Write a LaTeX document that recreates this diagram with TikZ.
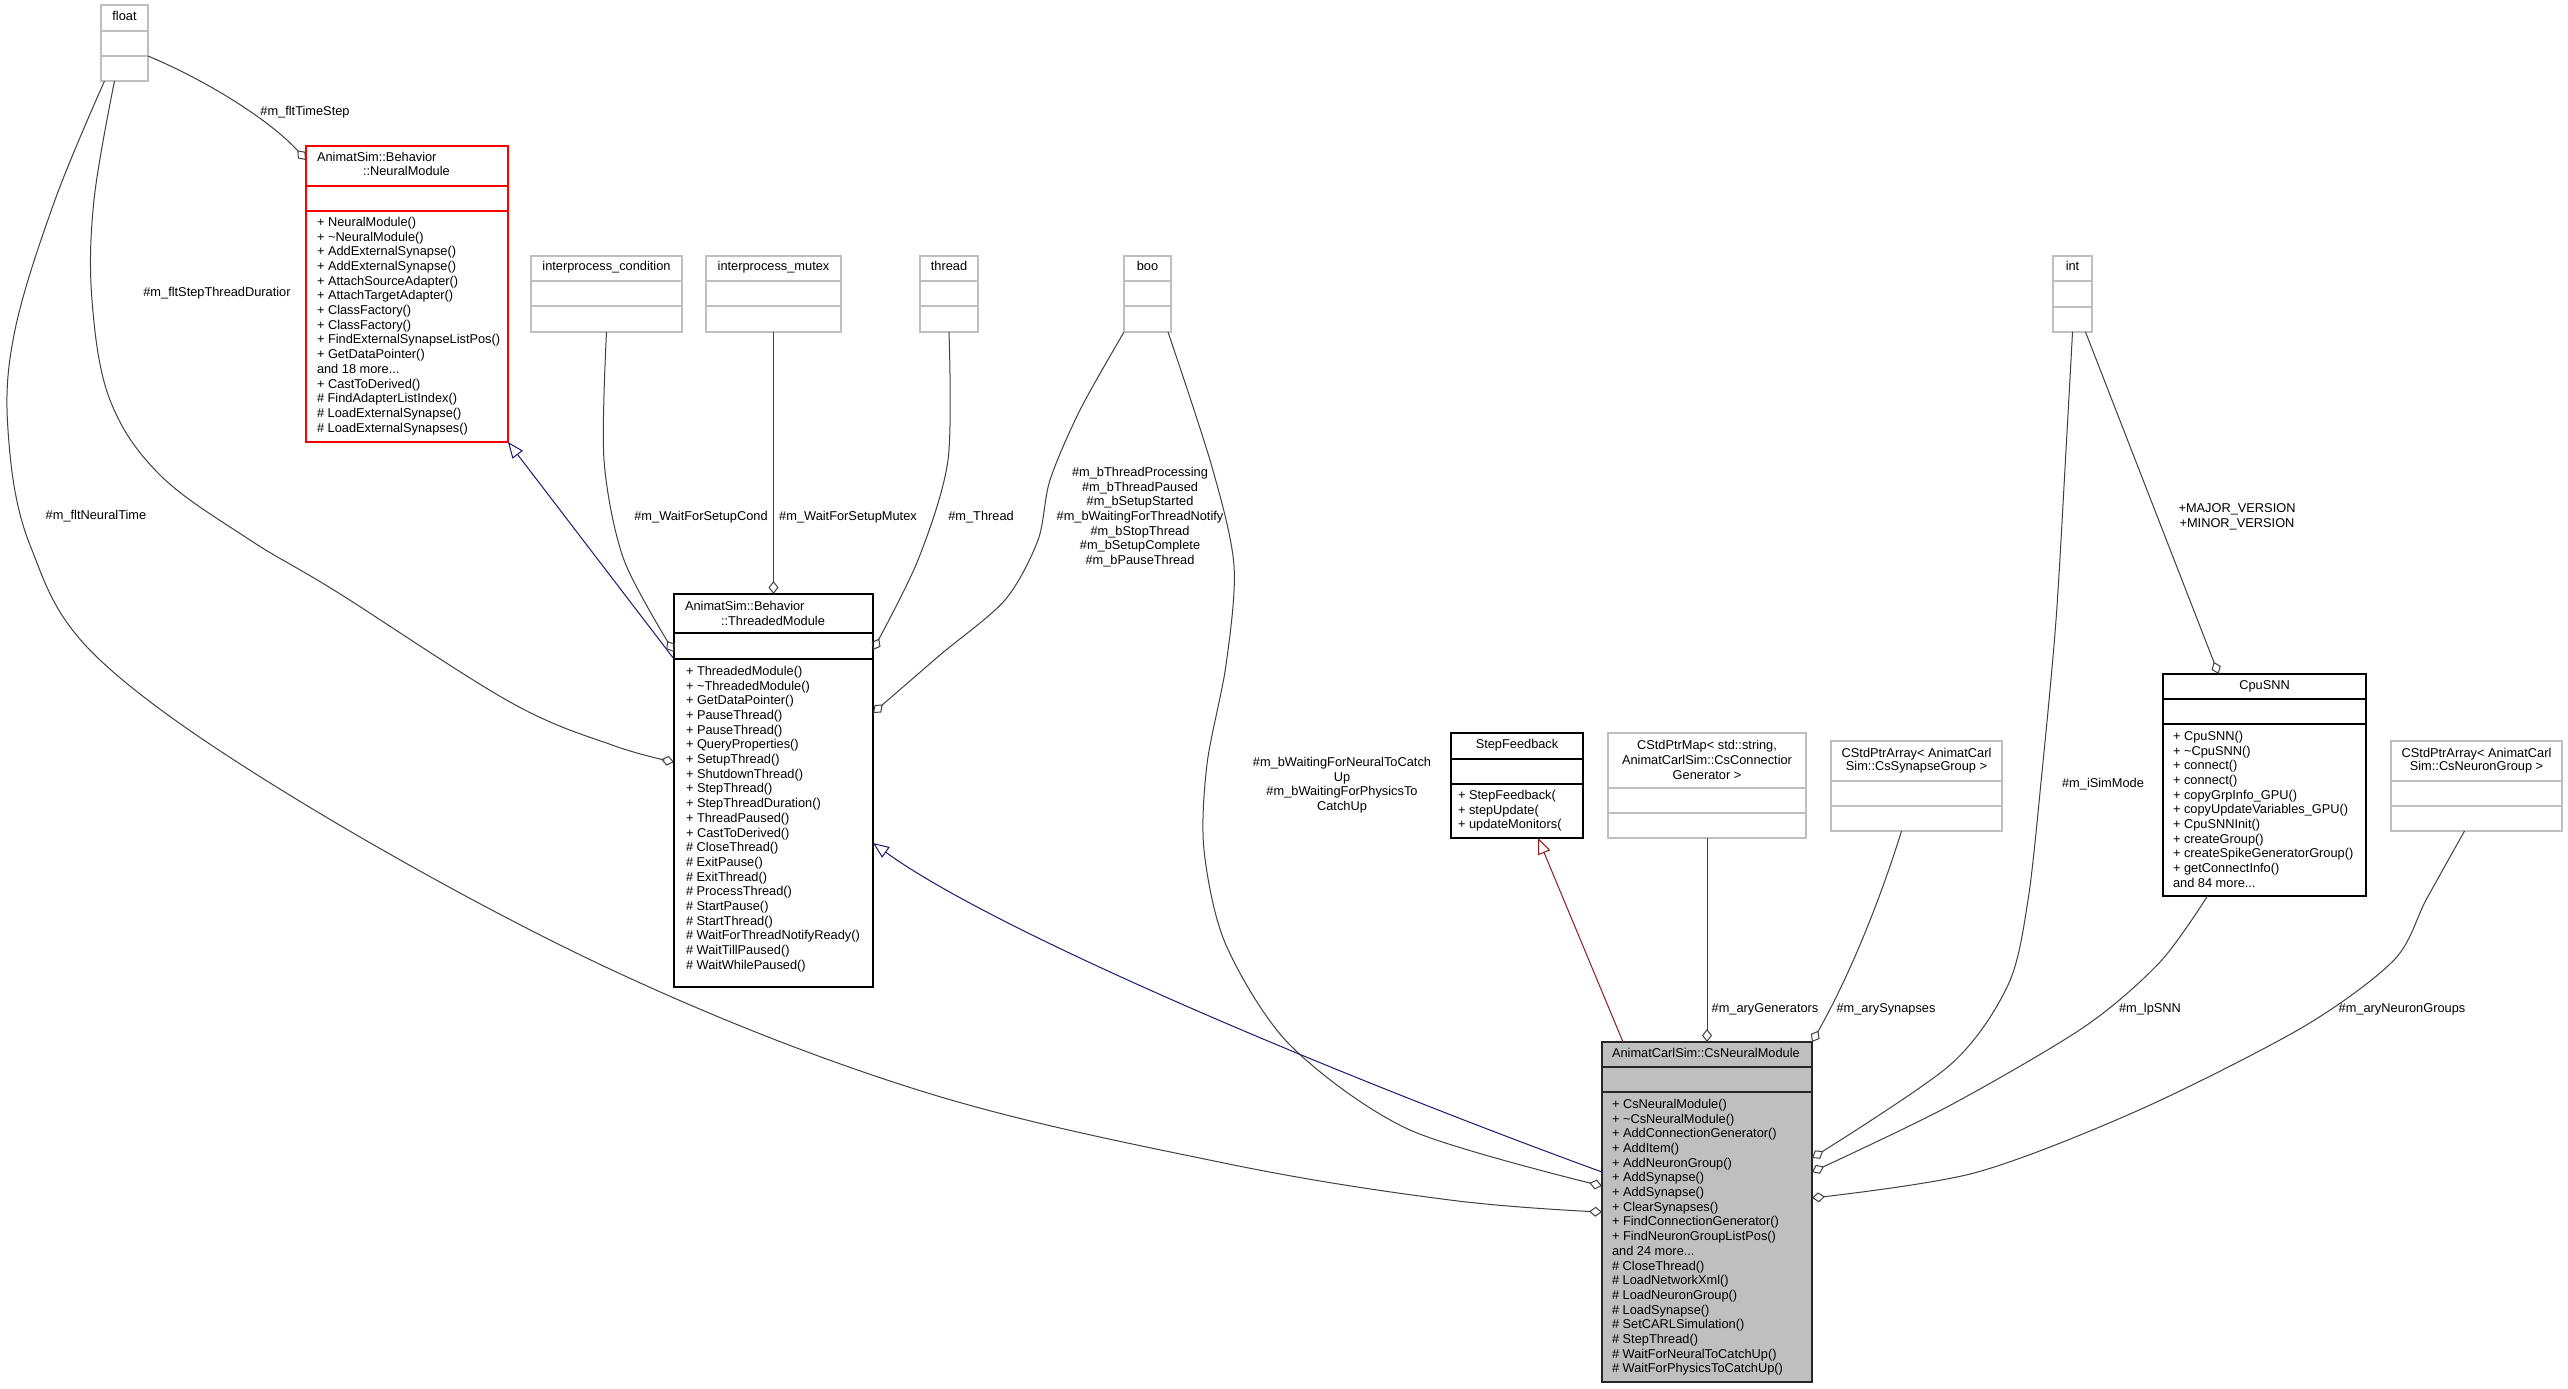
\documentclass[tikz,border=0pt]{standalone}
\usepackage{fontspec}
\setmainfont{Liberation Sans}
\usetikzlibrary{arrows.meta,fit,calc}
\definecolor{edgegray}{HTML}{404040}
\definecolor{boxgray}{HTML}{BFBFBF}
\definecolor{inhblue}{HTML}{191970}
\definecolor{inhred}{HTML}{8B1A1A}
\definecolor{nmred}{HTML}{FF0000}
\newcommand\umlcls[8]{%
  \path (#3,#4) coordinate (#1-nw) (#5,#6) coordinate (#1-se);
  \node[#2, fit=(#1-nw)(#1-se)] (#1) {};
  \foreach \s in {#7,#8} {\draw[#2] (#3,\s) -- (#5,\s);}
}
\tikzset{
  box/.style={inner sep=0pt, outer sep=0pt, line width=0.7pt},
  graybox/.style={box, draw=boxgray},
  blackbox/.style={box, draw=black},
  redbox/.style={box, draw=nmred},
  mainbox/.style={box, draw=black!85, fill=boxgray},
  txt/.style={font=\fontsize{6.4}{7.35}\selectfont, inner sep=0pt, outer sep=0pt, align=left, anchor=north west},
  ctitle/.style={font=\fontsize{6.4}{7.35}\selectfont, inner sep=0pt, outer sep=0pt, align=center},
  ctitle2/.style={font=\fontsize{6.4}{6.6}\selectfont, inner sep=0pt, outer sep=0pt, align=center},
  lbl/.style={font=\fontsize{6.4}{7.35}\selectfont, inner sep=0pt, outer sep=0pt, align=center},
  agg/.style={draw=edgegray, line width=0.5pt, -{Diamond[open, length=6.5pt, width=5pt]}},
  inhb/.style={draw=inhblue, line width=0.5pt, -{Triangle[open, length=8pt, width=6.5pt]}},
  inhr/.style={draw=inhred, line width=0.5pt, -{Triangle[open, length=8pt, width=6.5pt]}},
}
\begin{document}
\begin{tikzpicture}[x=0.5pt, y=-0.5pt]
\useasboundingbox (0,0) rectangle (2568,1388);
\fill[white] (0,0) rectangle (2568,1388);

% ---------- classes ----------
\umlcls{flt}{graybox}{101}{5}{148}{81}{31}{56}
\node[ctitle] (flt-t) at (124.5,18) {\strut float};

\umlcls{nm}{redbox}{306}{146}{508}{442}{186}{211}
\node[txt] (nm-t) at (317,151) {\strut AnimatSim::Behavior\\\hspace*{23pt}::NeuralModule};
\node[txt] (nm-m) at (317,216) {\strut + NeuralModule()\\+ \textasciitilde NeuralModule()\\+ AddExternalSynapse()\\+ AddExternalSynapse()\\+ AttachSourceAdapter()\\+ AttachTargetAdapter()\\+ ClassFactory()\\+ ClassFactory()\\+ FindExternalSynapseListPos()\\+ GetDataPointer()\\and 18 more...\\+ CastToDerived()\\\# FindAdapterListIndex()\\\# LoadExternalSynapse()\\\# LoadExternalSynapses()};

\umlcls{ipc}{graybox}{531}{256}{682}{332}{281}{306}
\node[ctitle] (ipc-t) at (606.5,268) {\strut interprocess\_condition};

\umlcls{ipm}{graybox}{706}{256}{841}{332}{281}{306}
\node[ctitle] (ipm-t) at (773.5,268) {\strut interprocess\_mutex};

\umlcls{thr}{graybox}{920}{256}{978}{332}{281}{306}
\node[ctitle] (thr-t) at (949,268) {\strut thread};

\umlcls{boo}{graybox}{1124}{256}{1171}{332}{281}{306}
\node[ctitle] (boo-t) at (1147.5,268) {\strut boo};

\umlcls{int}{graybox}{2053}{256}{2092}{332}{281}{307}
\node[ctitle] (int-t) at (2072.5,268) {\strut int};

\umlcls{tm}{blackbox}{674}{594}{873}{987}{633}{659}
\node[txt] (tm-t) at (685,600) {\strut AnimatSim::Behavior\\\hspace*{18pt}::ThreadedModule};
\node[txt] (tm-m) at (686,665) {\strut + ThreadedModule()\\+ \textasciitilde ThreadedModule()\\+ GetDataPointer()\\+ PauseThread()\\+ PauseThread()\\+ QueryProperties()\\+ SetupThread()\\+ ShutdownThread()\\+ StepThread()\\+ StepThreadDuration()\\+ ThreadPaused()\\+ CastToDerived()\\\# CloseThread()\\\# ExitPause()\\\# ExitThread()\\\# ProcessThread()\\\# StartPause()\\\# StartThread()\\\# WaitForThreadNotifyReady()\\\# WaitTillPaused()\\\# WaitWhilePaused()};

\umlcls{sf}{blackbox}{1451}{733}{1583}{838}{759}{784}
\node[ctitle] (sf-t) at (1517,746) {\strut StepFeedback};
\node[txt] (sf-m) at (1458,789) {\strut + StepFeedback(\\+ stepUpdate(\\+ updateMonitors(};

\umlcls{map}{graybox}{1608}{733}{1806}{838}{788}{813}
\node[ctitle] (map-t) at (1707,760) {CStdPtrMap< std::string,\\AnimatCarlSim::CsConnectior\\Generator >};

\umlcls{syn}{graybox}{1831}{741}{2002}{831}{781}{806}
\node[ctitle2] (syn-t) at (1916.5,761) {CStdPtrArray< AnimatCarl\\Sim::CsSynapseGroup >};

\umlcls{cpu}{blackbox}{2163}{674}{2366}{896}{699}{724}
\node[ctitle] (cpu-t) at (2264.5,687) {\strut CpuSNN};
\node[txt] (cpu-m) at (2173,730) {\strut + CpuSNN()\\+ \textasciitilde CpuSNN()\\+ connect()\\+ connect()\\+ copyGrpInfo\_GPU()\\+ copyUpdateVariables\_GPU()\\+ CpuSNNInit()\\+ createGroup()\\+ createSpikeGeneratorGroup()\\+ getConnectInfo()\\and 84 more...};

\umlcls{ng}{graybox}{2391}{741}{2562}{831}{781}{806}
\node[ctitle2] (ng-t) at (2476.5,761) {CStdPtrArray< AnimatCarl\\Sim::CsNeuronGroup >};

\umlcls{cs}{mainbox}{1602}{1042}{1812}{1382}{1067}{1092}
\node[txt] (cs-t) at (1612,1047) {\strut AnimatCarlSim::CsNeuralModule};
\node[txt] (cs-m) at (1612,1098) {\strut + CsNeuralModule()\\+ \textasciitilde CsNeuralModule()\\+ AddConnectionGenerator()\\+ AddItem()\\+ AddNeuronGroup()\\+ AddSynapse()\\+ AddSynapse()\\+ ClearSynapses()\\+ FindConnectionGenerator()\\+ FindNeuronGroupListPos()\\and 24 more...\\\# CloseThread()\\\# LoadNetworkXml()\\\# LoadNeuronGroup()\\\# LoadSynapse()\\\# SetCARLSimulation()\\\# StepThread()\\\# WaitForNeuralToCatchUp()\\\# WaitForPhysicsToCatchUp()};

% ---------- connectors ----------
% float -> NeuralModule
\draw[agg] ([shift={(0,13)}]flt.east) .. controls (210,82) and (272,122) .. ([shift={(0,14)}]nm.north west);
% float -> ThreadedModule
\draw[agg] plot[smooth, tension=0.6] coordinates {([shift={(-10,0)}]flt.south) (94,200) (92,300) (110,400) (160,475) (250,540) (337,592) (510,702) (612,745) ([shift={(0,168)}]tm.north west)};
% float -> CsNeuralModule
\draw[agg] plot[smooth, tension=0.6] coordinates {([shift={(-20,0)}]flt.south) (55,200) (15,330) (8,430) (30,545) (100,660) (306,805) (612,970) (918,1090) (1224,1163) (1450,1200) ([shift={(0,170)}]cs.north west)};
% interprocess_condition -> ThreadedModule
\draw[agg] plot[smooth] coordinates {(ipc.south) (604,460) (624,560) ([shift={(0,58)}]tm.north west)};
% interprocess_mutex -> ThreadedModule
\draw[agg] (ipm.south) -- (tm.north);
% thread -> ThreadedModule
\draw[agg] plot[smooth] coordinates {(thr.south) (948,460) (918,560) ([shift={(0,56)}]tm.north east)};
% boo -> ThreadedModule
\draw[agg] plot[smooth] coordinates {(boo.south west) (1080,410) (1050,480) (1038,540) (1005,600) (940,655) ([shift={(0,119)}]tm.north east)};
% boo -> CsNeuralModule
\draw[agg] plot[smooth] coordinates {([shift={(-3,0)}]boo.south east) (1212,467) (1234,566) (1226,665) (1207,764) (1204,850) (1226,945) (1290,1045) (1410,1130) ([shift={(0,144)}]cs.north west)};
% inheritance CsNeuralModule -> ThreadedModule
\draw[inhb] ([shift={(0,130)}]cs.north west) .. controls (1350,1080) and (1000,935) .. ([shift={(0,249)}]tm.north east);
% inheritance ThreadedModule -> NeuralModule
\draw[inhb] ([shift={(0,65)}]tm.north west) -- (nm.south east);
% inheritance CsNeuralModule -> StepFeedback
\draw[inhr] ([shift={(21,0)}]cs.north west) -- ([shift={(21,0)}]sf.south);
% CStdPtrMap -> CsNeuralModule
\draw[agg] (map.south) -- (cs.north);
% CStdPtrArray synapse -> CsNeuralModule
\draw[agg] ([shift={(-15,0)}]syn.south) .. controls (1880,900) and (1850,975) .. (cs.north east);
% int -> CsNeuralModule
\draw[agg] plot[smooth] coordinates {(int.south) (2066,450) (2056,620) (2042,772) (2028,900) (2008,985) (1950,1065) ([shift={(0,116)}]cs.north east)};
% int -> CpuSNN
\draw[agg] ([shift={(13,0)}]int.south) -- ([shift={(-46,0)}]cpu.north);
% CpuSNN -> CsNeuralModule
\draw[agg] plot[smooth] coordinates {([shift={(-57,0)}]cpu.south) (2160,962) (2084,1027) (1947,1107) ([shift={(0,130)}]cs.north east)};
% CStdPtrArray neuron -> CsNeuralModule
\draw[agg] plot[smooth] coordinates {([shift={(-12,0)}]ng.south) (2426,900) (2394,960) (2303,1027) (2139,1110) (1974,1173) ([shift={(0,156)}]cs.north east)};

% ---------- connector labels ----------
\node[lbl] (l-ts) at (305,112) {\#m\_fltTimeStep};
\node[lbl] (l-std) at (217,293) {\#m\_fltStepThreadDuratior};
\node[lbl] (l-nt) at (96,516) {\#m\_fltNeuralTime};
\node[lbl] (l-wc) at (701,517) {\#m\_WaitForSetupCond};
\node[lbl] (l-wm) at (848,517) {\#m\_WaitForSetupMutex};
\node[lbl] (l-th) at (981,517) {\#m\_Thread};
\node[lbl, anchor=north] (l-bt) at (1140,466) {\strut\#m\_bThreadProcessing\\\#m\_bThreadPaused\\\#m\_bSetupStarted\\\#m\_bWaitingForThreadNotify\\\#m\_bStopThread\\\#m\_bSetupComplete\\\#m\_bPauseThread};
\node[lbl, anchor=north] (l-bw) at (1342,756) {\strut\#m\_bWaitingForNeuralToCatch\\Up\\\#m\_bWaitingForPhysicsTo\\CatchUp};
\node[lbl] (l-ver) at (2237,517) {+MAJOR\_VERSION\\+MINOR\_VERSION};
\node[lbl] (l-sim) at (2103,784) {\#m\_iSimMode};
\node[lbl] (l-gen) at (1765,1009) {\#m\_aryGenerators};
\node[lbl] (l-syn) at (1886,1009) {\#m\_arySynapses};
\node[lbl] (l-snn) at (2150,1009) {\#m\_lpSNN};
\node[lbl] (l-ng) at (2402,1009) {\#m\_aryNeuronGroups};
\end{tikzpicture}
\end{document}
